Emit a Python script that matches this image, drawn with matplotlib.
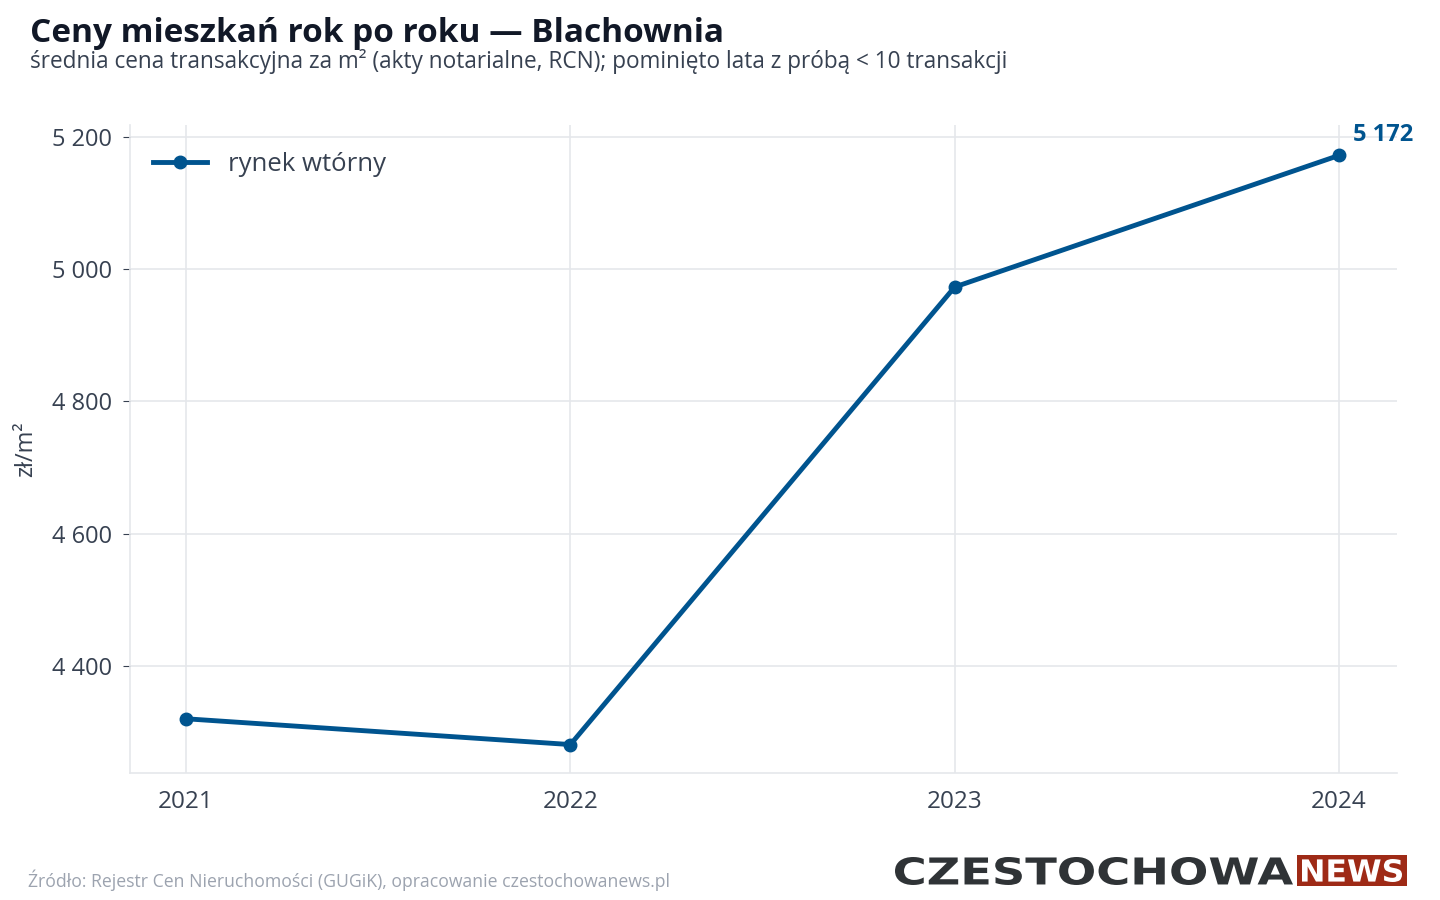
import matplotlib
matplotlib.use('Agg')
import matplotlib.pyplot as plt
from matplotlib.ticker import FuncFormatter
from matplotlib.textpath import TextPath
from matplotlib.font_manager import FontProperties
from matplotlib.patches import PathPatch, Rectangle
from matplotlib.transforms import Affine2D

plt.rcParams['font.family'] = ['Open Sans', 'DejaVu Sans']

years = [2021, 2022, 2023, 2024]
prices = [4320, 4281, 4973, 5172]
series_name = 'rynek wtórny'
yticks = [4400, 4600, 4800, 5000, 5200]

BLUE = '#00548f'
DARK = '#111827'
TEXT = '#374151'
GRID = '#e5e7eb'

W, H = 1440, 900
fig = plt.figure(figsize=(14.4, 9), dpi=100)
ax = fig.add_axes([130/W, 1 - 773/H, (1397-130)/W, (773-125)/H])

ax.plot(years, prices, color=BLUE, lw=3.5, marker='o', ms=9, label=series_name, zorder=3)

ax.set_xlim(2020.854, 2024.151)
ax.set_ylim(4238, 5218)
ax.set_xticks(years)
ax.set_yticks(yticks)
ax.yaxis.set_major_formatter(FuncFormatter(lambda v, p: f'{int(v):,}'.replace(',', ' ')))
ax.grid(True, color=GRID, lw=1.2)
ax.set_axisbelow(True)
for s in ['top', 'right']:
    ax.spines[s].set_visible(False)
for s in ['left', 'bottom']:
    ax.spines[s].set_color(GRID)
    ax.spines[s].set_linewidth(1.2)
ax.tick_params(axis='x', length=0, pad=12, labelsize=17.5, labelcolor=TEXT)
ax.tick_params(axis='y', length=5, color=TEXT, pad=8, labelsize=17, labelcolor=TEXT)
ax.set_ylabel('zł/m²', fontsize=17, color=TEXT, labelpad=10)

ax.annotate(f'{prices[-1]:,}'.replace(',', ' '), (years[-1], prices[-1]),
            xytext=(10, 6), textcoords='offset points', fontsize=17,
            fontweight='bold', color=BLUE, va='bottom')

leg = ax.legend(loc='upper left', frameon=False, fontsize=18.5, labelcolor=TEXT,
                handlelength=2.1, handletextpad=0.8, borderaxespad=0.65,
                bbox_to_anchor=(-0.003, 1))

fig.text(30/W, 1 - 33/H, 'Ceny mieszkań rok po roku — Blachownia', fontsize=24,
         fontweight='bold', color=DARK, va='center')
fig.text(30/W, 1 - 61/H,
         'średnia cena transakcyjna za m² (akty notarialne, RCN); pominięto lata z próbą < 10 transakcji',
         fontsize=16.3, color=TEXT, va='center')
fig.text(28/W, 1 - 880/H,
         'Źródło: Rejestr Cen Nieruchomości (GUGiK), opracowanie czestochowanews.pl',
         fontsize=12.7, color='#9ca3af', va='center')


# logo: text paths stretched into their boxes (pixel coords, top-left origin)
def logo_text(s, x0, y0, x1, y1, color):
    tp = TextPath((0, 0), s, size=10, prop=FontProperties(family='DejaVu Sans', weight='bold'))
    ext = tp.get_extents()
    sx = (x1 - x0) / ext.width
    sy = (y1 - y0) / ext.height
    tr = Affine2D().translate(-ext.x0, -ext.y0).scale(sx, sy).translate(x0, H - y1)
    fig.add_artist(PathPatch(tr.transform_path(tp), fc=color, ec='none',
                             transform=None))


fig.add_artist(Rectangle((1297, H - 886), 110, 31, fc='#9e2a16', ec='none', transform=None))
logo_text('CZESTOCHOWA', 895, 857, 1293, 885, '#2f3336')
logo_text('NEWS', 1302, 859, 1402, 882, 'white')

fig.savefig('out.png', dpi=100)
